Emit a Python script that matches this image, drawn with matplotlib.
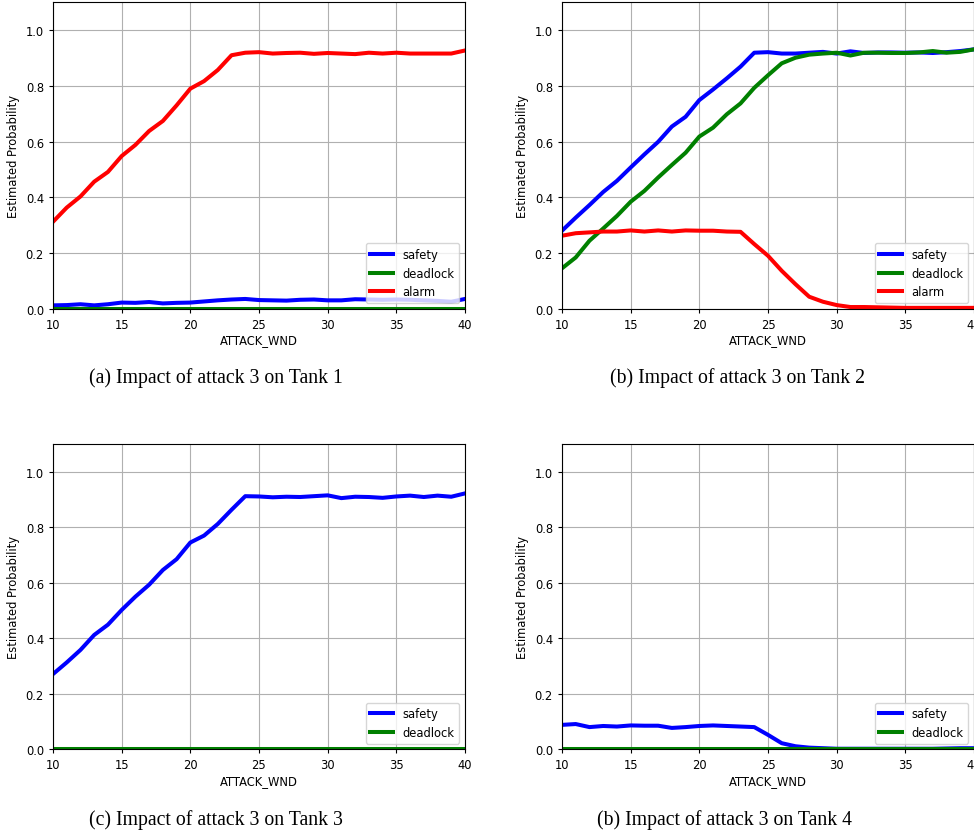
import matplotlib
matplotlib.use("Agg")
import matplotlib.pyplot as plt

attack_wnd = list(range(10, 41))

# Tank 1
t1_safety = [0.012, 0.013, 0.016, 0.012, 0.016, 0.022, 0.021, 0.024, 0.019, 0.021, 0.022,
             0.026, 0.030, 0.033, 0.035, 0.031, 0.030, 0.029, 0.032, 0.033, 0.030,
             0.030, 0.034, 0.033, 0.032, 0.033, 0.032, 0.030, 0.028, 0.025, 0.035]
t1_deadlock = [0.0] * 31
t1_alarm = [0.312, 0.363, 0.403, 0.456, 0.491, 0.548, 0.588, 0.638, 0.674, 0.730, 0.790,
            0.817, 0.857, 0.910, 0.919, 0.921, 0.916, 0.918, 0.919, 0.915, 0.918,
            0.916, 0.914, 0.919, 0.916, 0.919, 0.916, 0.916, 0.916, 0.916, 0.927]

# Tank 2
t2_safety = [0.280, 0.327, 0.372, 0.419, 0.459, 0.507, 0.554, 0.599, 0.654, 0.689, 0.749,
             0.787, 0.827, 0.869, 0.919, 0.921, 0.916, 0.916, 0.919, 0.922, 0.916,
             0.924, 0.918, 0.920, 0.920, 0.919, 0.920, 0.918, 0.921, 0.925, 0.931]
t2_deadlock = [0.145, 0.184, 0.244, 0.288, 0.333, 0.384, 0.423, 0.471, 0.516, 0.560, 0.618,
               0.650, 0.698, 0.737, 0.793, 0.838, 0.881, 0.901, 0.912, 0.916, 0.919,
               0.909, 0.919, 0.919, 0.918, 0.918, 0.920, 0.925, 0.919, 0.922, 0.931]
t2_alarm = [0.262, 0.271, 0.274, 0.277, 0.277, 0.281, 0.277, 0.281, 0.277, 0.281, 0.280,
            0.280, 0.277, 0.276, 0.232, 0.190, 0.136, 0.088, 0.043, 0.025, 0.013,
            0.006, 0.006, 0.005, 0.004, 0.003, 0.003, 0.003, 0.003, 0.003, 0.003]

# Tank 3
t3_safety = [0.271, 0.313, 0.358, 0.412, 0.449, 0.502, 0.550, 0.593, 0.646, 0.685, 0.745,
             0.770, 0.812, 0.863, 0.912, 0.911, 0.908, 0.910, 0.909, 0.912, 0.915,
             0.905, 0.910, 0.909, 0.906, 0.911, 0.914, 0.909, 0.914, 0.910, 0.922]
t3_deadlock = [0.0] * 31

# Tank 4
t4_safety = [0.088, 0.091, 0.080, 0.084, 0.082, 0.086, 0.085, 0.085, 0.077, 0.080, 0.084,
             0.086, 0.084, 0.082, 0.080, 0.052, 0.022, 0.011, 0.006, 0.004, 0.002,
             0.002, 0.002, 0.002, 0.002, 0.002, 0.002, 0.002, 0.003, 0.004, 0.004]
t4_deadlock = [0.0] * 31

captions = ["(a) Impact of attack 3 on Tank 1", "(b) Impact of attack 3 on Tank 2",
            "(c) Impact of attack 3 on Tank 3", "(b) Impact of attack 3 on Tank 4"]

panels = [
    [("safety", t1_safety, "blue"), ("deadlock", t1_deadlock, "green"), ("alarm", t1_alarm, "red")],
    [("safety", t2_safety, "blue"), ("deadlock", t2_deadlock, "green"), ("alarm", t2_alarm, "red")],
    [("safety", t3_safety, "blue"), ("deadlock", t3_deadlock, "green")],
    [("safety", t4_safety, "blue"), ("deadlock", t4_deadlock, "green")],
]

fs = 8.3
fig = plt.figure(figsize=(9.74, 8.37), dpi=100)

W, H = 974.0, 837.0
# axes boxes in pixels: left, top, right, bottom
boxes = [(53, 3.3, 465, 309.7), (562, 3.3, 974, 309.7),
         (53, 445, 465, 750.3), (562, 445, 974, 750.3)]
caption_pos = [(216, 378), (738, 378), (216, 820), (724, 820)]

for i, (box, series) in enumerate(zip(boxes, panels)):
    l, t, r, b = box
    ax = fig.add_axes([l / W, 1 - b / H, (r - l) / W, (b - t) / H])
    for name, vals, col in series:
        ax.plot(attack_wnd, vals, color=col, lw=2.9, label=name)
    ax.set_xlim(10, 40)
    ax.set_ylim(0, 1.1)
    ax.set_xticks([10, 15, 20, 25, 30, 35, 40])
    ax.set_yticks([0.0, 0.2, 0.4, 0.6, 0.8, 1.0])
    ax.tick_params(labelsize=fs, length=3)
    ax.grid(True, color="#b0b0b0", lw=0.8)
    ax.set_axisbelow(True)
    ax.set_xlabel("ATTACK_WND", fontsize=fs, labelpad=2)
    ax.set_ylabel("Estimated Probability", fontsize=fs)
    ax.legend(loc="lower right", fontsize=fs)
    cx, cy = caption_pos[i]
    fig.text(cx / W, 1 - cy / H, captions[i], ha="center", va="center",
             family="Liberation Serif", fontsize=14.2)

fig.savefig("out.png", dpi=100)
